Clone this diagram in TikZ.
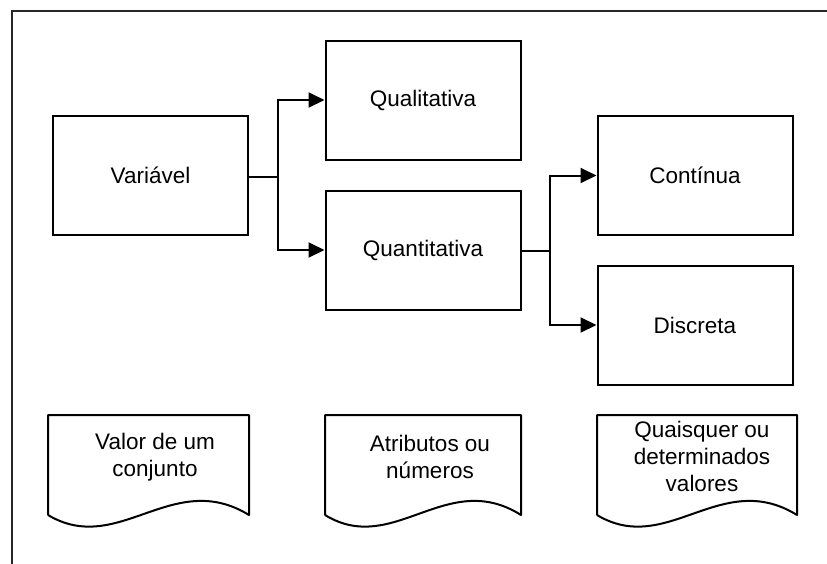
\documentclass[tikz,border=0pt]{standalone}
\usepackage{fontspec}
\setmainfont{Liberation Sans}
\usetikzlibrary{arrows.meta}
\newcommand\mydoc[2]{%
  \pgfmathsetmacro\mydocw{#2-#1}%
  \draw[line width=2pt,line join=round] (#1,515) -- (#1,415) -- (#2,415) -- (#2,515)
    .. controls ({#1+0.62*\mydocw},468) and ({#1+0.35*\mydocw},557) .. (#1,515);}
\begin{document}
\begin{tikzpicture}[x=1pt,y=-1pt,
  box/.style={draw,line width=2pt,minimum width=195pt,minimum height=119pt,inner sep=0pt,font=\fontsize{22.5}{26}\selectfont},
  arr/.style={line width=2pt,-{Triangle[length=16pt,width=15pt]}},
  ln/.style={line width=2pt},
  doctext/.style={align=center,font=\fontsize{22.5}{27}\selectfont,inner sep=0pt}]
\useasboundingbox (0,0) rectangle (827,563);
\fill[white] (0,0) rectangle (827,563);
% frame
\draw[line width=2pt,black!85] (12,570) -- (12,11) -- (835,11);
% boxes
\node[box] (var)   at (150.5,175) {Variável};
\node[box] (qual)  at (423,100) {Qualitativa};
\node[box] (quant) at (423,250) {Quantitativa};
\node[box] (cont)  at (695,175.5) {Contínua};
\node[box] (disc)  at (695,325) {Discreta};
% connectors
\coordinate (j1) at (278,177);
\coordinate (j2) at (550,251);
\draw[ln] ([yshift=-2pt]var.east) -- (j1);
\draw[arr] (j1) |- (qual.west);
\draw[arr] (j1) |- (quant.west);
\draw[ln] ([yshift=-1pt]quant.east) -- (j2);
\draw[arr] (j2) |- (cont.west);
\draw[arr] (j2) |- (disc.west);
% document shapes
\mydoc{48}{249}
\mydoc{325}{521}
\mydoc{597}{797}
\node[doctext] (t1) at (155,457) {Valor de um\\conjunto};
\node[doctext] (t2) at (430,457) {Atributos ou\\números};
\node[doctext] (t3) at (702,456) {Quaisquer ou\\determinados\\valores};
\end{tikzpicture}
\end{document}
